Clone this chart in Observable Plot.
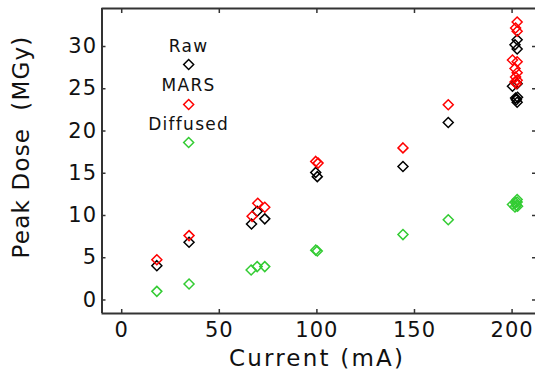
<!DOCTYPE html>
<html>
<head>
<meta charset="utf-8">
<script src="https://cdn.jsdelivr.net/npm/d3@7"></script>
<script src="https://cdn.jsdelivr.net/npm/@observablehq/plot@0.6"></script>
<style>
  html, body { margin: 0; padding: 0; background: #fff; }
  #chart { width: 535px; height: 377px; }
</style>
</head>
<body>
<div id="chart"></div>
<script>
// ---- Data ----
const rawCurrent = [18, 34.5, 66.5, 69.4, 73.3, 99.4, 100.2, 144.1, 167.3, 202.6, 201.5, 202.6, 200.2, 202.6, 202.8, 202.2, 202.6, 201.8];
const rawDose    = [4.06, 6.83, 9.0, 10.5, 9.6, 15.1, 14.6, 15.8, 21.0, 30.8, 30.2, 29.7, 25.3, 25.6, 24.0, 23.7, 23.4, 23.9];

const marsCurrent = [18, 34.5, 66.8, 69.7, 73.3, 99.4, 100.6, 144.1, 167.3, 202.6, 201.8, 202.6, 200.2, 202.6, 201.5, 202.6, 201.8, 202.6, 202.2, 201.5];
const marsDose    = [4.77, 7.62, 9.9, 11.45, 10.97, 16.4, 16.2, 18.0, 23.1, 32.9, 32.2, 31.8, 28.4, 28.2, 27.4, 26.9, 26.4, 26.0, 25.6, 25.8];

const diffCurrent = [18, 34.5, 66.3, 69.4, 73.3, 99.4, 100.2, 144.1, 167.3, 200.2, 201.5, 202.6, 202.6, 202.2, 201.8, 202.8];
const diffDose    = [1.02, 1.89, 3.55, 3.95, 3.95, 5.9, 5.8, 7.74, 9.5, 11.3, 11.0, 11.6, 11.9, 11.2, 11.5, 11.1];

const xTicks = [0, 50, 100, 150, 200];
const yTicks = [0, 5, 10, 15, 20, 25, 30];
const xDomain = [-10.1, 212];
const yDomain = [-1.6, 34.5];

const legendLabels = ["Raw", "MARS", "Diffused"];
const legendColors = ["#000000", "#ff0000", "#33cc33"];
const legendCurrent = 34.3;
const legendTextDose = [29.34, 24.72, 20.14];
const legendMarkDose = [27.88, 23.14, 18.64];

const xLabel = "Current (mA)";
const yLabel = "Peak Dose  (MGy)";

// ---- Build tables ----
const toRows = (xs, ys) => xs.map((c, i) => ({current: c, dose: ys[i]}));
const rawRows = toRows(rawCurrent, rawDose);
const marsRows = toRows(marsCurrent, marsDose);
const diffRows = toRows(diffCurrent, diffDose);

const axisColor = "#333";
const dotOpts = {x: "current", y: "dose", symbol: "diamond2", r: 4.5, strokeWidth: 1.5, fill: "none"};

const legendMarks = legendLabels.flatMap((lab, i) => [
  Plot.text([lab], {x: () => legendCurrent, y: () => legendTextDose[i], text: d => d,
    lineAnchor: "bottom", fontSize: 17, fill: "#111"}),
  Plot.dot([lab], {x: () => legendCurrent, y: () => legendMarkDose[i], symbol: "diamond2",
    r: 4.5, strokeWidth: 1.5, stroke: legendColors[i], fill: "none"})
]);

const svg = Plot.plot({
  width: 535,
  height: 377,
  marginLeft: 101.5,
  marginRight: 0,
  marginTop: 8,
  marginBottom: 64,
  x: {domain: xDomain},
  y: {domain: yDomain},
  style: {fontFamily: "'DejaVu Sans', sans-serif", background: "#fff", color: "#111"},
  marks: [
    // frame lines (left, bottom, top)
    Plot.ruleX([xDomain[0]], {stroke: axisColor, strokeWidth: 2}),
    Plot.ruleY([yDomain[0]], {stroke: axisColor, strokeWidth: 2}),
    Plot.ruleY([yDomain[1]], {stroke: axisColor, strokeWidth: 2}),
    // inward tick marks
    Plot.axisX({ticks: xTicks, anchor: "bottom", tickSize: 4, dy: -4, tickFormat: () => "", label: null, stroke: axisColor, strokeWidth: 1.5}),
    Plot.axisX({ticks: xTicks, anchor: "top", tickSize: 4, dy: 4, tickFormat: () => "", label: null, stroke: axisColor, strokeWidth: 1.5}),
    Plot.axisY({ticks: yTicks, anchor: "left", tickSize: 4, dx: 4, tickFormat: () => "", label: null, stroke: axisColor, strokeWidth: 1.5}),
    Plot.axisY({ticks: yTicks, anchor: "right", tickSize: 4, dx: -4, tickFormat: () => "", label: null, stroke: axisColor, strokeWidth: 1.5}),
    // tick labels
    Plot.axisX({ticks: xTicks, anchor: "bottom", tickSize: 0, tickPadding: 9, fontSize: 21, label: null}),
    Plot.axisY({ticks: yTicks, anchor: "left", tickSize: 0, tickPadding: 5, fontSize: 21, label: null}),
    // axis titles
    Plot.text([xLabel], {frameAnchor: "bottom", textAnchor: "middle", lineAnchor: "middle", dy: 45, dx: -1.75, text: d => d, fontSize: 23, fill: "#111"}),
    Plot.text([yLabel], {frameAnchor: "left", textAnchor: "middle", lineAnchor: "middle", rotate: -90, dx: -80, dy: -14, text: d => d, fontSize: 23, fill: "#111"}),
    // data
    Plot.dot(rawRows, {...dotOpts, stroke: "#000000"}),
    Plot.dot(marsRows, {...dotOpts, stroke: "#ff0000"}),
    Plot.dot(diffRows, {...dotOpts, stroke: "#33cc33"}),
    ...legendMarks
  ]
});

// letter spacing to mimic the wide stroked font of the original
d3.select(svg).selectAll("text").each(function() {
  const t = this.textContent.trim();
  let ls = null;
  if (t === xLabel.trim()) ls = "2.2px";
  else if (t === yLabel.trim() || t.replace(/\s+/g, " ") === yLabel.replace(/\s+/g, " ")) ls = "1.2px";
  else if (legendLabels.includes(t)) ls = "1.3px";
  else if (/^\d+$/.test(t)) ls = "1px";
  if (ls) this.setAttribute("letter-spacing", ls);
});
document.getElementById("chart").appendChild(svg);
</script>
</body>
</html>
